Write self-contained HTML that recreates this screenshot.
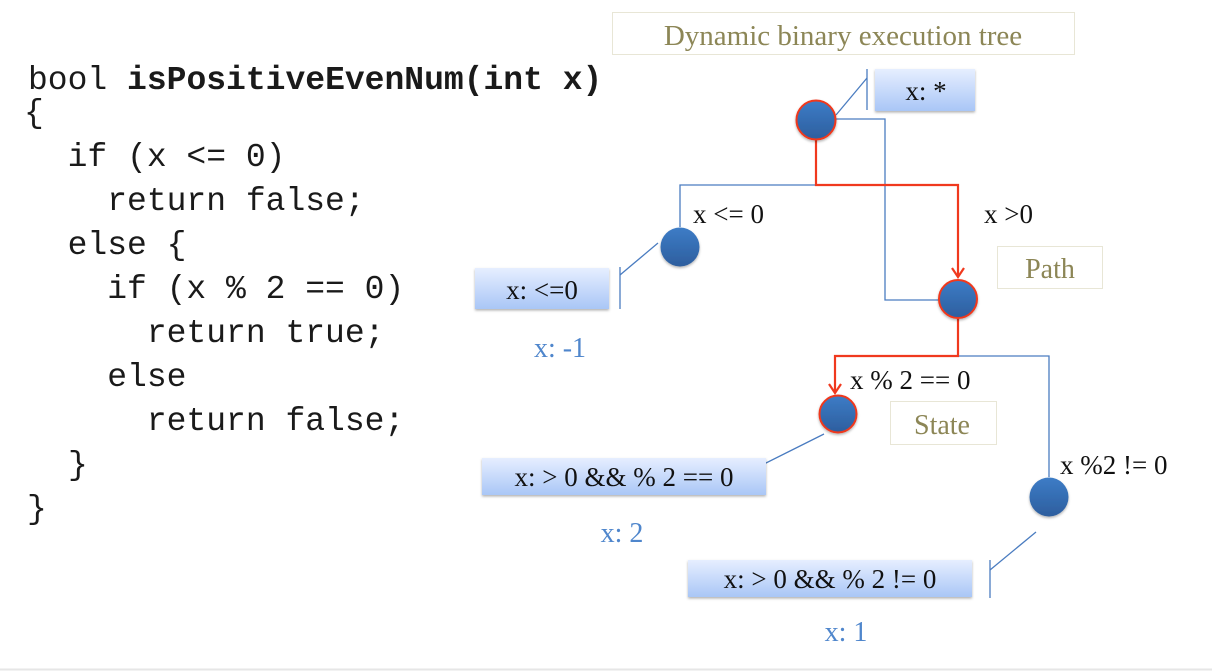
<!DOCTYPE html>
<html><head><meta charset="utf-8"><style>
html,body{margin:0;padding:0;background:#fff;}
svg{display:block;}
.code{font-family:"Liberation Mono",monospace;font-size:33px;fill:#1a1a1a;}
.serif{font-family:"Liberation Serif",serif;}
</style></head><body>
<svg width="1212" height="671" viewBox="0 0 1212 671" xmlns="http://www.w3.org/2000/svg">
<defs>
<linearGradient id="bx" x1="0" y1="0" x2="0" y2="1">
<stop offset="0" stop-color="#e6eeff"/><stop offset="1" stop-color="#a9c6f6"/></linearGradient>
<linearGradient id="nd" x1="0" y1="0" x2="0" y2="1">
<stop offset="0" stop-color="#3d7cc6"/><stop offset="1" stop-color="#2d5e9e"/></linearGradient>
<filter id="sh" x="-20%" y="-20%" width="140%" height="150%"><feDropShadow dx="0" dy="1.5" stdDeviation="1.2" flood-color="#000" flood-opacity="0.3"/></filter>
</defs>
<rect width="1212" height="671" fill="#fff"/>
<line x1="0" y1="669.5" x2="1212" y2="669.5" stroke="#e6e6e6" stroke-width="2"/>

<!-- code -->
<text class="code" x="28" y="89" xml:space="preserve">bool <tspan font-weight="bold">isPositiveEvenNum(int x)</tspan></text>
<text class="code" x="24" y="122">{</text>
<text class="code" x="28" y="166" xml:space="preserve">  if (x &lt;= 0)</text>
<text class="code" x="28" y="210" xml:space="preserve">    return false;</text>
<text class="code" x="28" y="254" xml:space="preserve">  else {</text>
<text class="code" x="28" y="298" xml:space="preserve">    if (x % 2 == 0)</text>
<text class="code" x="28" y="342" xml:space="preserve">      return true;</text>
<text class="code" x="28" y="386" xml:space="preserve">    else</text>
<text class="code" x="28" y="430" xml:space="preserve">      return false;</text>
<text class="code" x="68" y="474">}</text>
<text class="code" x="27" y="518">}</text>

<!-- title -->
<rect x="612.5" y="12.5" width="462" height="42" fill="#fff" stroke="#e8e6d6"/>
<text class="serif" x="843" y="45" font-size="29" fill="#8c8656" text-anchor="middle">Dynamic binary execution tree</text>

<!-- label boxes -->
<rect x="997.5" y="246.5" width="105" height="42" fill="#fff" stroke="#e8e6d6"/>
<text class="serif" x="1050" y="278" font-size="28" fill="#8c8656" text-anchor="middle">Path</text>
<rect x="890.5" y="401.5" width="106" height="43" fill="#fff" stroke="#e8e6d6"/>
<text class="serif" x="942" y="434" font-size="28" fill="#8c8656" text-anchor="middle">State</text>

<!-- blue connectors -->
<g stroke="#4a7cc0" stroke-width="1.3" fill="none">
<polyline points="836,119 885,119 885,300 940,300"/>
<polyline points="816,185 680,185 680,227"/>
<polyline points="958,356 1049,356 1049,477"/>
<line x1="836" y1="115" x2="867" y2="78"/><line x1="867" y1="69" x2="867" y2="110"/>
<line x1="658" y1="243" x2="620" y2="275"/><line x1="620" y1="267" x2="620" y2="309"/>
<line x1="824" y1="434" x2="758" y2="467"/><line x1="758" y1="459" x2="758" y2="495"/>
<line x1="1036" y1="532" x2="990" y2="570"/><line x1="990" y1="560" x2="990" y2="598"/>
</g>
<!-- red path -->
<g stroke="#f0391e" stroke-width="2.2" fill="none">
<polyline points="816,140 816,185 958,185 958,277"/>
<polyline points="952,268 958,277 964,268"/>
<polyline points="958,319 958,356 835,356 835,393"/>
<polyline points="829,384 835,393 841,384"/>
</g>

<!-- nodes -->
<g filter="url(#sh)">
<circle cx="816" cy="120" r="19.5" fill="url(#nd)" stroke="#f0391e" stroke-width="2"/>
<circle cx="680" cy="247" r="19.5" fill="url(#nd)"/>
<circle cx="958" cy="299" r="19" fill="url(#nd)" stroke="#f0391e" stroke-width="2"/>
<circle cx="838" cy="414" r="18.5" fill="url(#nd)" stroke="#f0391e" stroke-width="2"/>
<circle cx="1049" cy="497" r="19.5" fill="url(#nd)"/>
</g>

<!-- state boxes -->
<g filter="url(#sh)">
<rect x="875" y="69" width="100" height="42" fill="url(#bx)"/>
<rect x="475" y="268" width="134" height="41" fill="url(#bx)"/>
<rect x="482" y="458" width="284" height="37" fill="url(#bx)"/>
<rect x="688" y="560" width="284" height="37" fill="url(#bx)"/>
</g>
<g class="serif" font-size="27" fill="#111" text-anchor="middle">
<text x="926" y="100">x: *</text>
<text x="542" y="299">x: &lt;=0</text>
<text x="624" y="486">x: &gt; 0 &amp;&amp; % 2 == 0</text>
<text x="830" y="588">x: &gt; 0 &amp;&amp; % 2 != 0</text>
</g>

<!-- edge labels -->
<g class="serif" font-size="27" fill="#111">
<text x="693" y="223">x &lt;= 0</text>
<text x="984" y="223">x &gt;0</text>
<text x="850" y="389">x % 2 == 0</text>
<text x="1060" y="474">x %2 != 0</text>
</g>

<!-- concrete values -->
<g class="serif" font-size="28" fill="#4f86cc" text-anchor="middle">
<text x="560" y="357">x: -1</text>
<text x="622" y="542">x: 2</text>
<text x="846" y="641">x: 1</text>
</g>
</svg>
</body></html>
